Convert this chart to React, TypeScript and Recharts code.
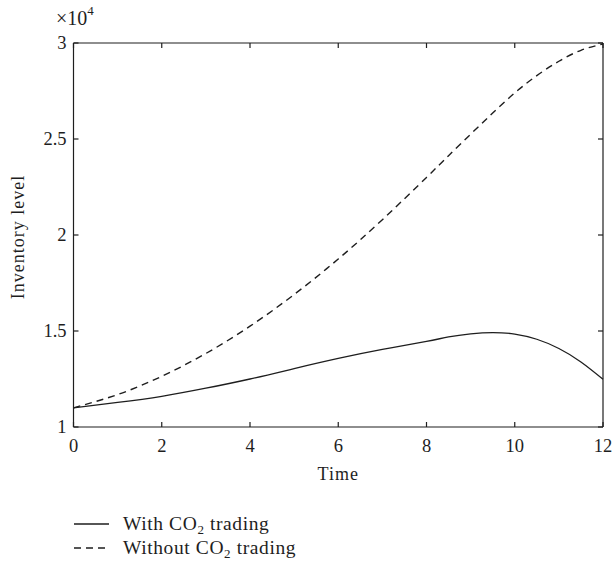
import React from "react";
import { LineChart, Line, XAxis, YAxis, Legend } from "recharts";

const times = [0, 1, 2, 3, 4, 5, 6, 7, 8, 8.5, 9, 9.5, 10, 10.5, 11, 11.5, 12];
const withTrading = [
  11000, 11280, 11600, 12020, 12500, 13040, 13570, 14040, 14460, 14690, 14850,
  14920, 14840, 14570, 14090, 13390, 12490,
];
const withoutTrading = [
  11000, 11690, 12640, 13830, 15250, 16900, 18750, 20800, 23000, 24130, 25250,
  26350, 27400, 28300, 29050, 29620, 29950,
];
const seriesNames = ["With CO2 trading", "Without CO2 trading"];
const xTicks = [0, 2, 4, 6, 8, 10, 12];
const yTicks = [10000, 15000, 20000, 25000, 30000];

const data = times.map((t, i) => ({
  t,
  with: withTrading[i],
  without: withoutTrading[i],
}));

const FONT = "'Liberation Serif', 'DejaVu Serif', serif";
const INK = "#1e1e1e";
const DASH = "7 5";

const BottomTick = (props: any) => {
  const { x, y, payload } = props;
  return (
    <g>
      <line x1={x} x2={x} y1={y} y2={y - 5} stroke={INK} strokeWidth={1.2} />
      <text x={x} y={y + 25} textAnchor="middle" fontFamily={FONT} fontSize={18.5} fill={INK}>
        {payload.value}
      </text>
    </g>
  );
};

const TopTick = (props: any) => {
  const { x, y } = props;
  return <line x1={x} x2={x} y1={y} y2={y + 5} stroke={INK} strokeWidth={1.2} />;
};

const LeftTick = (props: any) => {
  const { x, y, payload } = props;
  return (
    <g>
      <line x1={x} x2={x + 5} y1={y} y2={y} stroke={INK} strokeWidth={1.2} />
      <text x={x - 7} y={y + 6} textAnchor="end" fontFamily={FONT} fontSize={18.5} fill={INK}>
        {payload.value / 10000}
      </text>
    </g>
  );
};

const RightTick = (props: any) => {
  const { x, y } = props;
  return <line x1={x} x2={x - 5} y1={y} y2={y} stroke={INK} strokeWidth={1.2} />;
};

const YLabel = (props: any) => {
  const { viewBox } = props;
  const cy = viewBox.y + viewBox.height / 2 + 2;
  return (
    <g fontFamily={FONT} fill={INK}>
      <text
        x={24}
        y={cy}
        transform={`rotate(-90 24 ${cy})`}
        textAnchor="middle"
        fontSize={18}
        letterSpacing={1}
      >
        Inventory level
      </text>
      <text x={56} y={25} fontSize={20}>
        ×10
        <tspan dy={-10} fontSize={13}>
          4
        </tspan>
      </text>
    </g>
  );
};

const XLabel = (props: any) => {
  const { viewBox } = props;
  return (
    <text
      x={viewBox.x + viewBox.width / 2}
      y={viewBox.y + 53}
      textAnchor="middle"
      fontFamily={FONT}
      fontSize={18}
      letterSpacing={1}
      fill={INK}
    >
      Time
    </text>
  );
};

const withSub = (name: string) => {
  const [a, b] = name.split("CO2");
  return (
    <>
      {a}CO
      <tspan dy={4} fontSize={13}>
        2
      </tspan>
      <tspan dy={-4}>{b}</tspan>
    </>
  );
};

const LegendBox = () => (
  <svg width={320} height={60} style={{ display: "block" }}>
    {seriesNames.map((name, i) => {
      const ly = 24 + i * 24;
      return (
        <g key={name}>
          <line
            x1={74}
            x2={109}
            y1={ly}
            y2={ly}
            stroke={INK}
            strokeWidth={1.3}
            strokeDasharray={i === 1 ? "7 5" : undefined}
          />
          <text x={123} y={ly + 5.5} fontFamily={FONT} fontSize={19.5} letterSpacing={0.6} fill={INK}>
            {withSub(name)}
          </text>
        </g>
      );
    })}
  </svg>
);

export default function App() {
  return (
    <div style={{ position: "absolute", left: 0, top: 0 }}>
      <LineChart
        width={613}
        height={565}
        data={data}
        margin={{ top: 42, right: 9, bottom: 0, left: 0 }}
      >
        <XAxis
          dataKey="t"
          type="number"
          domain={[0, 12]}
          ticks={xTicks}
          height={138}
          tickSize={0}
          tickMargin={0}
          tick={<BottomTick />}
          axisLine={{ stroke: INK, strokeWidth: 1.2 }}
          label={<XLabel />}
        />
        <XAxis
          xAxisId="top"
          dataKey="t"
          orientation="top"
          type="number"
          domain={[0, 12]}
          ticks={xTicks}
          height={1}
          tickSize={0}
          tickMargin={0}
          tick={<TopTick />}
          axisLine={{ stroke: INK, strokeWidth: 1.2 }}
        />
        <YAxis
          type="number"
          domain={[10000, 30000]}
          ticks={yTicks}
          width={73.5}
          tickSize={0}
          tickMargin={0}
          tick={<LeftTick />}
          axisLine={{ stroke: INK, strokeWidth: 1.2 }}
          label={<YLabel />}
        />
        <YAxis
          yAxisId="right"
          orientation="right"
          type="number"
          domain={[10000, 30000]}
          ticks={yTicks}
          width={1}
          tickSize={0}
          tickMargin={0}
          tick={<RightTick />}
          axisLine={{ stroke: INK, strokeWidth: 1.2 }}
        />
        <Legend
          layout="vertical"
          align="center"
          verticalAlign="middle"
          wrapperStyle={{ left: 0, top: 500, width: 320 }}
          content={<LegendBox />}
        />
        <Line
          dataKey="with"
          name={seriesNames[0]}
          type="natural"
          stroke={INK}
          strokeWidth={1.3}
          dot={false}
          isAnimationActive={false}
        />
        <Line
          dataKey="without"
          name={seriesNames[1]}
          xAxisId="top"
          yAxisId="right"
          type="natural"
          stroke={INK}
          strokeWidth={1.4}
          strokeDasharray={DASH}
          dot={false}
          isAnimationActive={false}
        />
      </LineChart>
    </div>
  );
}
